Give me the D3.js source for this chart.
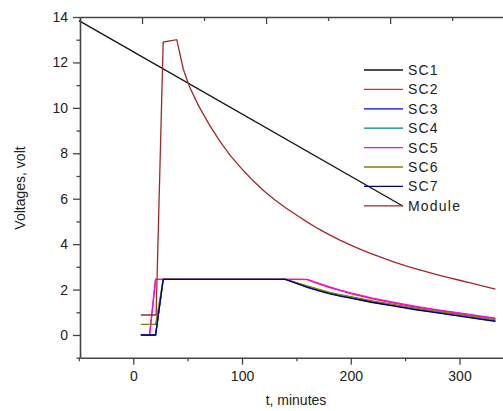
<!DOCTYPE html>
<html>
<head>
<meta charset="utf-8">
<script src="https://cdn.jsdelivr.net/npm/d3@7"></script>
<style>
  body { margin: 0; background: #fff; }
  svg { display: block; }
  text { font-family: "Liberation Sans", Arial, sans-serif; fill: #222; }
</style>
</head>
<body>
<svg id="graphic" width="503" height="411"></svg>
<script>
// data
const seriesNames = ['SC1', 'SC2', 'SC3', 'SC4', 'SC5', 'SC6', 'SC7', 'Module'];
const seriesColors = ['#111111', '#ff2020', '#0000ff', '#008080', '#ff00ff', '#808000', '#000080', '#a0282a'];

const tSC1 = [-50, 247.8];
const vSC1 = [13.84, 5.68];

// cell voltages share one time grid
const tCell = [7, 15, 20.5, 27.5, 140, 150, 160, 170, 180, 190, 200, 220, 240, 260, 280, 300, 320, 333];
const vSC2 = [0, 0, 2.45, 2.45, 2.45, 2.45, 2.44, 2.26, 2.10, 1.96, 1.82, 1.59, 1.40, 1.23, 1.08, 0.94, 0.80, 0.72];
const vSC3 = [0, 0, 0, 2.45, 2.45, 2.28, 2.12, 1.97, 1.84, 1.73, 1.64, 1.45, 1.29, 1.13, 0.99, 0.85, 0.71, 0.62];
const vSC4 = [0, 0, 0, 2.45, 2.45, 2.30, 2.14, 2.00, 1.87, 1.76, 1.67, 1.48, 1.32, 1.16, 1.02, 0.88, 0.74, 0.65];
const vSC5 = [0, 0, 2.45, 2.45, 2.45, 2.45, 2.45, 2.28, 2.13, 1.98, 1.85, 1.62, 1.43, 1.26, 1.11, 0.97, 0.83, 0.74];
const vSC6 = [0.47, 0.47, 0.47, 2.45, 2.45, 2.31, 2.16, 2.02, 1.89, 1.78, 1.69, 1.50, 1.34, 1.18, 1.04, 0.90, 0.76, 0.67];
const vSC7 = [0, 0, 0, 2.45, 2.45, 2.27, 2.10, 1.95, 1.82, 1.71, 1.62, 1.43, 1.27, 1.11, 0.97, 0.83, 0.69, 0.60];

const tModule = [7, 21, 27.5, 40, 46, 52, 60, 70, 80, 90, 100, 110, 120, 130, 140, 150, 160, 170, 180, 190, 200, 210, 220, 230, 240, 250, 260, 270, 280, 290, 300, 310, 320, 333];
const vModule = [0.88, 0.88, 12.9, 13.0, 11.7, 10.9, 10.1, 9.25, 8.5, 7.85, 7.3, 6.8, 6.35, 5.95, 5.6, 5.28, 4.97, 4.68, 4.42, 4.18, 3.96, 3.75, 3.56, 3.38, 3.21, 3.05, 2.91, 2.78, 2.65, 2.53, 2.41, 2.29, 2.17, 2.02];

const xMajor = [0, 100, 200, 300];
const xMinor = [-50, 50, 150, 250];
const yMajor = [0, 2, 4, 6, 8, 10, 12, 14];
const yMinor = [-1, 1, 3, 5, 7, 9, 11, 13];
const topMajor = [0, 100, 200];
const topMinor = [-50, 50, 150, 250];

const series = [
  tSC1.map((t, i) => [t, vSC1[i]]),
  tCell.map((t, i) => [t, vSC2[i]]),
  tCell.map((t, i) => [t, vSC3[i]]),
  tCell.map((t, i) => [t, vSC4[i]]),
  tCell.map((t, i) => [t, vSC5[i]]),
  tCell.map((t, i) => [t, vSC6[i]]),
  tCell.map((t, i) => [t, vSC7[i]]),
  tModule.map((t, i) => [t, vModule[i]])
];

const mLeft = 80, mRight = 503, mTop = 17, mBottom = 357.7;

const x = d3.scaleLinear().domain([-49, 340]).range([mLeft, mRight]);
const xTop = d3.scaleLinear().domain([-50, 291]).range([mLeft, mRight]);
const y = d3.scaleLinear().domain([-1, 14]).range([mBottom, mTop]);

const svg = d3.select('#graphic');

const plot = svg.append('g');

const line = d3.line()
  .x(d => x(d[0]))
  .y(d => y(d[1]));

plot.selectAll('.series')
  .data(series)
  .enter()
  .append('path')
  .classed('series', true)
  .attr('fill', 'none')
  .attr('stroke', (d, i) => seriesColors[i])
  .attr('stroke-width', 1.3)
  .attr('d', line);

// axes
const axisColor = '#444';

function styleAxis(g) {
  g.select('.domain').attr('stroke', axisColor).attr('stroke-width', 1.6);
  g.selectAll('.tick line').attr('stroke', axisColor).attr('stroke-width', 1.3);
  g.selectAll('.tick text')
    .style('font-family', '"Liberation Sans", Arial, sans-serif')
    .style('font-size', '14px')
    .attr('fill', '#222');
}

svg.append('g')
  .attr('transform', `translate(0,${mBottom})`)
  .call(d3.axisBottom(x).tickValues(xMinor).tickSize(3.5).tickFormat('').tickSizeOuter(0))
  .call(styleAxis);
svg.append('g')
  .attr('transform', `translate(0,${mBottom})`)
  .call(d3.axisBottom(x).tickValues(xMajor).tickSize(7).tickPadding(6).tickSizeOuter(0))
  .call(styleAxis)
  .call(g => g.select('.domain').remove());

svg.append('g')
  .attr('transform', `translate(${mLeft},0)`)
  .call(d3.axisLeft(y).tickValues(yMinor).tickSize(3.5).tickFormat('').tickSizeOuter(0))
  .call(styleAxis);
svg.append('g')
  .attr('transform', `translate(${mLeft},0)`)
  .call(d3.axisLeft(y).tickValues(yMajor).tickSize(7).tickPadding(5).tickSizeOuter(0))
  .call(styleAxis)
  .call(g => g.select('.domain').remove());

// top axis: ticks only, pointing inward
svg.append('g')
  .attr('transform', `translate(0,${mTop})`)
  .call(d3.axisBottom(xTop).tickValues(topMinor).tickSize(4).tickFormat('').tickSizeOuter(0))
  .call(styleAxis);
svg.append('g')
  .attr('transform', `translate(0,${mTop})`)
  .call(d3.axisBottom(xTop).tickValues(topMajor).tickSize(7).tickFormat('').tickSizeOuter(0))
  .call(styleAxis)
  .call(g => g.select('.domain').remove());

// axis titles
svg.append('text')
  .attr('x', 296)
  .attr('y', 405)
  .attr('text-anchor', 'middle')
  .style('font-size', '14px')
  .text('t, minutes');

svg.append('text')
  .attr('transform', 'translate(25,188) rotate(-90)')
  .attr('text-anchor', 'middle')
  .style('font-size', '14px')
  .text('Voltages, volt');

// legend
const legend = svg.append('g').attr('transform', 'translate(364,70)');
const items = legend.selectAll('.item')
  .data(seriesNames)
  .enter()
  .append('g')
  .classed('item', true)
  .attr('transform', (d, i) => `translate(0,${i * 19.4})`);

items.append('line')
  .attr('x1', 0).attr('x2', 39)
  .attr('y1', 0).attr('y2', 0)
  .attr('stroke', (d, i) => seriesColors[i])
  .attr('stroke-width', 1.3);

items.append('text')
  .attr('x', 44)
  .attr('y', 5)
  .style('font-size', '14px')
  .style('letter-spacing', '1.2px')
  .text(d => d);
</script>
</body>
</html>
